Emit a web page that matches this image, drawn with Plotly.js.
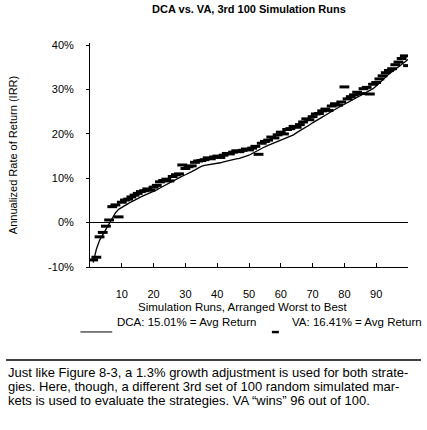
<!DOCTYPE html>
<html>
<head>
<meta charset="utf-8">
<script src="https://cdn.plot.ly/plotly-3.0.1.min.js"></script>
<style>html,body{margin:0;padding:0;background:#fff;}#chart{width:427px;height:430px;}</style>
</head>
<body>
<div id="chart"></div>
<script>
// Simulation runs (arranged worst to best by DCA)
var runs = [];
for (var i = 1; i <= 100; i++) runs.push(i);

// DCA annualized return (%) per run
var dcaReturns = [
  -9.0, -6.0, -4.0, -2.8, -1.5, -0.3, 1.0, 2.2, 3.0, 3.5,
  3.9, 4.3, 4.7, 5.0, 5.4, 5.8, 6.1, 6.4, 6.7, 7.0,
  7.4, 7.8, 8.2, 8.6, 9.0, 9.4, 9.8, 10.2, 10.5, 10.8,
  11.1, 11.5, 11.9, 12.3, 12.7, 12.9, 13.0, 13.1, 13.2, 13.3,
  13.5, 13.7, 13.9, 14.1, 14.3, 14.4, 14.5, 14.7, 14.9, 15.2,
  15.6, 16.0, 16.4, 16.8, 17.1, 17.4, 17.7, 18.0, 18.3, 18.6,
  18.9, 19.2, 19.5, 19.8, 20.3, 20.7, 21.2, 21.6, 22.0, 22.5,
  23.0, 23.4, 23.8, 24.2, 24.7, 25.1, 25.5, 25.9, 26.3, 26.7,
  27.1, 27.5, 27.9, 28.3, 28.7, 29.1, 29.5, 29.8, 30.2, 30.8,
  31.5, 32.2, 32.9, 33.5, 34.0, 34.5, 35.0, 35.6, 36.2, 36.8
];

// VA annualized return (%) per run
var vaReturns = [
  -8.4, -7.8, -3.2, -2.2, -0.8, 0.6, 3.6, 4.0, 1.3, 4.6,
  5.1, 5.3, 5.8, 6.2, 6.6, 7.0, 7.2, 7.6, 7.3, 8.0,
  8.4, 9.2, 9.5, 9.8, 9.4, 10.4, 10.8, 11.0, 13.0, 12.2,
  12.6, 12.8, 13.6, 13.9, 14.0, 14.2, 14.6, 14.4, 14.8, 15.0,
  14.7, 15.2, 15.6, 15.5, 15.9, 16.2, 16.0, 16.3, 16.6, 16.4,
  16.8, 17.2, 15.4, 17.9, 18.3, 18.6, 19.3, 19.1, 19.8, 20.4,
  20.0, 21.0, 21.2, 21.7, 21.5, 22.1, 22.7, 23.4, 23.2, 23.9,
  24.5, 24.6, 25.2, 25.6, 25.3, 26.3, 26.8, 26.5, 27.2, 30.6,
  27.9, 28.4, 28.8, 29.4, 29.1, 30.2, 30.5, 29.0, 31.2, 31.6,
  32.4, 33.1, 33.8, 34.3, 34.7, 35.6, 36.2, 37.0, 37.6, 35.4
];

var xTickVals = [10, 20, 30, 40, 50, 60, 70, 80, 90, 100];
var xTickText = ['10', '20', '30', '40', '50', '60', '70', '80', '90', ''];
var yTickVals = [-10, 0, 10, 20, 30, 40];
var yTickText = ['-10%', '0%', '10%', '20%', '30%', '40%'];

var FONT = 'Liberation Sans, Arial, Helvetica, sans-serif';

var traces = [
  {
    x: runs, y: dcaReturns, type: 'scatter', mode: 'lines',
    line: {color: '#000', width: 1.3}, hoverinfo: 'skip', showlegend: false
  },
  {
    x: runs, y: vaReturns, type: 'scatter', mode: 'markers',
    marker: {symbol: 'line-ew', size: 7, color: '#000', line: {color: '#000', width: 3}},
    hoverinfo: 'skip', showlegend: false
  }
];

var layout = {
  width: 427, height: 430,
  margin: {l: 90, r: 19, t: 43, b: 163},
  paper_bgcolor: '#fff', plot_bgcolor: '#fff',
  font: {family: FONT, color: '#000', size: 11},
  showlegend: false,
  xaxis: {
    range: [0, 100], showgrid: false, zeroline: false,
    showline: true, linecolor: '#000', linewidth: 1,
    ticks: 'inside', ticklen: 4, tickcolor: '#000',
    tickvals: xTickVals, ticktext: xTickText,
    ticklabelstandoff: 17,
    tickfont: {size: 11, family: FONT},
    fixedrange: true
  },
  yaxis: {
    range: [-10, 40.5], showgrid: false,
    zeroline: true, zerolinecolor: '#000', zerolinewidth: 1,
    showline: true, linecolor: '#000', linewidth: 1,
    ticks: 'outside', ticklen: 3, tickcolor: '#000',
    tickvals: yTickVals, ticktext: yTickText,
    ticklabelstandoff: 10,
    tickfont: {size: 11, family: FONT},
    title: {text: 'Annualized Rate of Return (IRR)', font: {size: 11, family: FONT}, standoff: 28},
    fixedrange: true
  },
  title: {
    text: 'DCA vs. VA, 3rd 100 Simulation Runs',
    font: {size: 11, family: FONT, weight: 'bold'},
    x: 0.583, xanchor: 'center', y: 0.979, yanchor: 'middle'
  },
  shapes: [
    // legend sample for DCA line
    {type: 'line', xref: 'paper', yref: 'paper', x0: -0.03, x1: 0.07, y0: -0.29, y1: -0.29,
      line: {color: '#000', width: 1}},
    // legend sample for VA marker
    {type: 'rect', xref: 'paper', yref: 'paper', x0: 0.572, x1: 0.594, y0: -0.285, y1: -0.296,
      fillcolor: '#000', line: {width: 0}},
    // horizontal rule above caption
    {type: 'line', xref: 'paper', yref: 'paper', x0: -0.264, x1: 1.041, y0: -0.415, y1: -0.415,
      line: {color: '#000', width: 1.5}}
  ],
  annotations: [
    {text: 'Simulation Runs, Arranged Worst to Best', xref: 'paper', yref: 'paper',
      x: 0.48, y: -0.178, xanchor: 'center', yanchor: 'middle', showarrow: false,
      font: {size: 11.5, family: FONT}},
    {text: 'DCA: 15.01% = Avg Return', xref: 'paper', yref: 'paper',
      x: 0.08, y: -0.247, xanchor: 'left', yanchor: 'middle', showarrow: false,
      font: {size: 11.5, family: FONT}},
    {text: 'VA: 16.41% = Avg Return', xref: 'paper', yref: 'paper',
      x: 0.628, y: -0.247, xanchor: 'left', yanchor: 'middle', showarrow: false,
      font: {size: 11.5, family: FONT}},
    {text: 'Just like Figure 8-3, a 1.3% growth adjustment is used for both strate-', xref: 'paper', yref: 'paper',
      x: -0.264, y: -0.472, xanchor: 'left', yanchor: 'middle', showarrow: false,
      font: {size: 13, family: FONT}},
    {text: 'gies. Here, though, a different 3rd set of 100 random simulated mar-', xref: 'paper', yref: 'paper',
      x: -0.264, y: -0.535, xanchor: 'left', yanchor: 'middle', showarrow: false,
      font: {size: 13, family: FONT}},
    {text: 'kets is used to evaluate the strategies. VA \u201cwins\u201d 96 out of 100.', xref: 'paper', yref: 'paper',
      x: -0.264, y: -0.598, xanchor: 'left', yanchor: 'middle', showarrow: false,
      font: {size: 13, family: FONT}}
  ]
};

Plotly.newPlot('chart', traces, layout, {staticPlot: true, displayModeBar: false});
</script>
</body>
</html>
